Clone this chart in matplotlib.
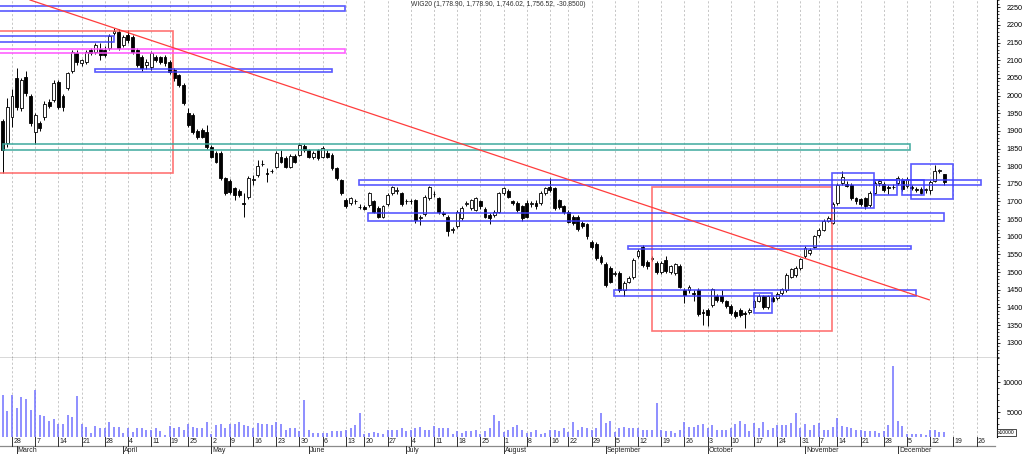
import matplotlib
matplotlib.use('Agg')
import matplotlib.pyplot as plt
import matplotlib.transforms as mtransforms
from matplotlib.patches import Rectangle
from matplotlib.lines import Line2D
import numpy as np
import pandas as pd

plt.rcParams['font.family'] = ['Liberation Sans', 'DejaVu Sans']

# ---------------- data ----------------
title_text = "WIG20 (1,778.90, 1,778.90, 1,746.02, 1,756.52, -30.8500)"
holidays = ['2022-04-15', '2022-04-18', '2022-05-03', '2022-06-16',
            '2022-08-15', '2022-11-01', '2022-11-11']
first_date, last_axis_date = '2022-02-24', '2022-12-30'
first_tick_date = '2022-02-28'
first_month_date = '2022-03-01'

opens = [1929, 1865, 1940, 2049, 1964, 2054, 1999, 1898, 1921, 1938,
         1983, 1988, 2039, 1999, 2021, 2071, 2120, 2092, 2096, 2129,
         2124, 2131, 2129, 2134, 2178, 2181, 2143, 2172, 2167, 2129,
         2110, 2087, 2082, 2110, 2108, 2110, 2096, 2072, 2058, 2030,
         1952, 1945, 1900, 1903, 1898, 1855, 1837, 1837, 1766, 1759,
         1737, 1731, 1697, 1714, 1762, 1775, 1805, 1781, 1785, 1799,
         1827, 1822, 1799, 1829, 1832, 1857, 1846, 1826, 1846, 1827,
         1838, 1832, 1794, 1761, 1704, 1695, 1700, 1685, 1684, 1690,
         1700, 1681, 1657, 1693, 1723, 1729, 1723, 1700, 1701, 1704,
         1653, 1665, 1709, 1722, 1709, 1666, 1657, 1620, 1631, 1653,
         1694, 1681, 1676, 1700, 1678, 1662, 1662, 1671, 1723, 1731,
         1700, 1695, 1686, 1697, 1694, 1695, 1695, 1723, 1742, 1737,
         1703, 1686, 1671, 1657, 1657, 1640, 1636, 1586, 1579, 1544,
         1523, 1511, 1496, 1497, 1450, 1473, 1486, 1546, 1572, 1530,
         1538, 1527, 1499, 1535, 1499, 1497, 1518, 1450, 1448, 1441,
         1450, 1388, 1393, 1407, 1433, 1431, 1417, 1404, 1388, 1393,
         1384, 1386, 1402, 1419, 1431, 1401, 1426, 1426, 1440, 1450,
         1487, 1492, 1511, 1546, 1553, 1572, 1605, 1620, 1646, 1640,
         1695, 1752, 1749, 1747, 1709, 1706, 1709, 1690, 1725, 1752,
         1749, 1741, 1740, 1752, 1761, 1744, 1742, 1734, 1735, 1732,
         1733, 1759, 1786, 1778.90]
highs = [1935, 1994, 2020, 2077, 2050, 2071, 2005, 1950, 1928, 1985,
         1990, 2044, 2045, 2005, 2068, 2130, 2128, 2105, 2130, 2135,
         2150, 2148, 2140, 2175, 2190, 2188, 2172, 2186, 2172, 2135,
         2115, 2105, 2125, 2115, 2112, 2115, 2102, 2078, 2062, 2035,
         1964, 1950, 1906, 1908, 1917, 1860, 1842, 1842, 1770, 1763,
         1742, 1735, 1723, 1772, 1775, 1818, 1818, 1794, 1792, 1842,
         1846, 1828, 1835, 1835, 1865, 1862, 1850, 1842, 1850, 1856,
         1845, 1836, 1798, 1765, 1710, 1712, 1708, 1692, 1690, 1728,
         1705, 1686, 1690, 1723, 1745, 1740, 1728, 1708, 1707, 1708,
         1662, 1718, 1745, 1730, 1714, 1672, 1662, 1628, 1676, 1686,
         1700, 1708, 1714, 1705, 1683, 1667, 1675, 1728, 1742, 1735,
         1705, 1700, 1690, 1703, 1700, 1705, 1730, 1742, 1766, 1742,
         1708, 1690, 1676, 1662, 1662, 1645, 1640, 1592, 1584, 1549,
         1528, 1516, 1504, 1502, 1475, 1488, 1540, 1566, 1578, 1535,
         1545, 1532, 1532, 1546, 1520, 1526, 1522, 1455, 1464, 1450,
         1455, 1395, 1398, 1456, 1438, 1450, 1422, 1409, 1393, 1398,
         1390, 1398, 1424, 1438, 1436, 1436, 1432, 1443, 1456, 1497,
         1513, 1516, 1541, 1573, 1568, 1606, 1625, 1651, 1660, 1698,
         1752, 1785, 1757, 1752, 1714, 1711, 1714, 1730, 1758, 1763,
         1754, 1746, 1750, 1771, 1766, 1768, 1748, 1740, 1740, 1738,
         1761, 1803, 1792, 1778.90]
lows = [1782, 1855, 1912, 1960, 1955, 2000, 1915, 1863, 1900, 1930,
        1965, 1982, 1962, 1955, 2015, 2065, 2087, 2085, 2090, 2115,
        2118, 2101, 2108, 2128, 2172, 2128, 2138, 2150, 2118, 2080,
        2070, 2075, 2072, 2095, 2090, 2085, 2062, 2042, 2025, 1972,
        1910, 1892, 1878, 1880, 1850, 1822, 1808, 1760, 1718, 1722,
        1705, 1712, 1657, 1708, 1747, 1770, 1800, 1756, 1780, 1795,
        1808, 1794, 1795, 1808, 1828, 1840, 1822, 1820, 1818, 1822,
        1822, 1788, 1760, 1718, 1682, 1690, 1692, 1678, 1675, 1685,
        1666, 1652, 1652, 1688, 1718, 1722, 1688, 1693, 1694, 1638,
        1634, 1660, 1704, 1712, 1664, 1658, 1603, 1612, 1626, 1648,
        1688, 1676, 1672, 1680, 1652, 1636, 1657, 1666, 1718, 1710,
        1690, 1670, 1645, 1652, 1685, 1680, 1690, 1718, 1728, 1676,
        1678, 1665, 1638, 1632, 1615, 1626, 1595, 1566, 1534, 1524,
        1458, 1468, 1490, 1444, 1433, 1468, 1481, 1540, 1515, 1510,
        1532, 1494, 1494, 1497, 1494, 1492, 1454, 1412, 1442, 1417,
        1377, 1350, 1346, 1402, 1416, 1412, 1399, 1379, 1371, 1374,
        1341, 1381, 1397, 1414, 1396, 1396, 1414, 1421, 1435, 1445,
        1482, 1487, 1506, 1541, 1548, 1567, 1600, 1615, 1641, 1635,
        1690, 1747, 1740, 1704, 1694, 1688, 1680, 1685, 1720, 1745,
        1728, 1722, 1735, 1747, 1730, 1739, 1732, 1727, 1720, 1725,
        1720, 1755, 1780, 1746.02]
closes = [1846, 1969, 1999, 1969, 2044, 2006, 1921, 1945, 1907, 1976,
          1971, 2035, 1969, 1969, 2063, 2124, 2096, 2100, 2124, 2120,
          2143, 2115, 2115, 2169, 2182, 2134, 2167, 2157, 2124, 2087,
          2077, 2095, 2120, 2101, 2096, 2091, 2068, 2049, 2030, 1978,
          1917, 1898, 1884, 1884, 1855, 1827, 1813, 1766, 1723, 1728,
          1719, 1719, 1694, 1766, 1764, 1801, 1807, 1779, 1787, 1837,
          1813, 1799, 1829, 1813, 1860, 1846, 1827, 1838, 1822, 1851,
          1827, 1794, 1766, 1725, 1686, 1709, 1701, 1683, 1680, 1723,
          1671, 1657, 1686, 1719, 1740, 1733, 1693, 1701, 1700, 1648,
          1657, 1714, 1740, 1720, 1669, 1664, 1615, 1622, 1671, 1681,
          1696, 1704, 1709, 1686, 1657, 1653, 1671, 1723, 1737, 1714,
          1695, 1676, 1653, 1657, 1696, 1686, 1725, 1737, 1733, 1681,
          1684, 1671, 1643, 1638, 1621, 1631, 1601, 1572, 1539, 1530,
          1464, 1473, 1498, 1450, 1470, 1483, 1535, 1561, 1520, 1516,
          1540, 1499, 1527, 1502, 1516, 1522, 1459, 1436, 1459, 1439,
          1382, 1384, 1379, 1451, 1421, 1417, 1404, 1384, 1376, 1379,
          1380, 1393, 1419, 1433, 1401, 1431, 1419, 1438, 1451, 1492,
          1508, 1511, 1536, 1568, 1563, 1601, 1620, 1646, 1652, 1693,
          1747, 1770, 1745, 1709, 1700, 1693, 1686, 1725, 1753, 1758,
          1733, 1739, 1742, 1766, 1735, 1763, 1737, 1732, 1725, 1734,
          1756, 1785, 1788, 1756.52]
volumes = [7900, 5200, 7900, 5700, 7500, 7200, 5300, 8700, 4500, 4300,
           3600, 3800, 3000, 3000, 4500, 4200, 7700, 3000, 2600, 1600,
           2700, 2300, 2300, 3400, 2600, 2600, 1600, 2300, 1700, 2300,
           2400, 2000, 2100, 2400, 1800, 1200, 2700, 2400, 2600, 2000,
           3100, 2600, 2400, 2400, 3300, 1400, 2900, 3100, 2400, 3100,
           3100, 3400, 2800, 2700, 2400, 3200, 3100, 3100, 2800, 3400,
           3000, 2100, 2400, 2400, 1900, 7100, 2000, 1500, 1600, 1500,
           1600, 1900, 1900, 1900, 2100, 2300, 2800, 4800, 1300, 1600,
           1700, 1600, 1400, 2100, 2000, 2100, 2400, 1800, 2100, 2300,
           2600, 2100, 2100, 2700, 2400, 2300, 2300, 1400, 1800, 1500,
           1900, 1800, 2000, 1300, 1900, 2400, 4500, 3500, 1700, 2000,
           2600, 2800, 2000, 1600, 1700, 2000, 1400, 1600, 2000, 2100,
           1900, 2300, 1700, 3400, 2100, 2600, 2300, 2100, 2300, 4900,
           3200, 3500, 1700, 2300, 2600, 2400, 2400, 2300, 2100, 2000,
           2100, 6600, 2000, 1900, 1900, 1600, 2000, 3400, 2500, 2600,
           2800, 3000, 2400, 2800, 2000, 2000, 2100, 2300, 3000, 3500,
           3000, 1900, 3200, 2400, 3400, 2000, 2300, 2800, 2800, 2800,
           3200, 4900, 2400, 3100, 2100, 2800, 3200, 2000, 2000, 2600,
           4000, 2700, 2600, 2400, 2100, 2100, 1900, 1900, 1900, 1500,
           1900, 2800, 12700, 3500, 2700, 1300, 1400, 1300, 1300, 1200,
           2000, 2100, 1700, 1700]

# drawing objects (x in trading-day index, y in index points)
blue_boxes = [(-3, 73.9, 2239.6, 2254.6), (-3, 23.9, 2151, 2168.8),
              (20.0, 71.0, 2066, 2074.5), (76.9, 210.9, 1747, 1762),
              (78.8, 202.9, 1646, 1667), (134.9, 195.8, 1565, 1575),
              (131.9, 197.0, 1431, 1450), (161.9, 165.8, 1385, 1442),
              (178.8, 187.9, 1681, 1782), (187.8, 192.8, 1719, 1761),
              (194.0, 198.7, 1717, 1761), (195.8, 204.9, 1706, 1806)]
magenta_boxes = [(-3, 73.9, 2120, 2131)]
teal_boxes = [(0.0, 195.7, 1847, 1862)]
red_boxes = [(-3, 36.8, 1780, 2183), (140.0, 178.9, 1334, 1740.5)]
trend_x = [5.9, 199.8]
trend_y = [2270.7, 1421.4]

price_ticks = list(range(1300, 2251, 50))
volume_ticks = [5000, 10000]

# ---------------- calendar ----------------
dates = pd.bdate_range(first_date, last_axis_date)
dates = dates[~dates.isin(pd.to_datetime(holidays))]
ser = pd.Series(np.arange(len(dates)), index=dates)
valid = ser[ser.index >= pd.Timestamp(first_tick_date)]
iso = valid.index.isocalendar()
week_idx = valid.groupby([iso['year'].values, iso['week'].values]).min().sort_values().values
week_lab = [str(dates[i].day) for i in week_idx]
mvalid = ser[ser.index >= pd.Timestamp(first_month_date)]
month_idx = mvalid.groupby(mvalid.index.month).min().sort_values().values
month_lab = [dates[i].strftime('%B') for i in month_idx]

# ---------------- figure ----------------
W, H = 1024, 454
fig = plt.figure(figsize=(W / 100, H / 100), dpi=100)
fig.patch.set_facecolor('white')
axp = fig.add_axes([0, (H - 358) / H, 997 / W, 358 / H])
axv = fig.add_axes([0, (H - 437) / H, 997 / W, (437 - 358) / H], sharex=axp)

x = np.arange(len(opens))
o, h, l, c = (np.array(v, float) for v in (opens, highs, lows, closes))
up = c >= o

for ax in (axp, axv):
    ax.set_facecolor('white')
    ax.set_xticks(week_idx)
    ax.grid(axis='x', linestyle=(0, (2.2, 2.2)), color='#c6c6c6', lw=0.7)
    ax.set_axisbelow(True)
    ax.tick_params(axis='x', length=0, labelbottom=False)
    for s in ('left', 'top', 'bottom'):
        ax.spines[s].set_visible(False)
    ax.spines['right'].set_color('black')
    ax.spines['right'].set_linewidth(0.8)

axp.spines['bottom'].set_visible(True)
axp.spines['bottom'].set_color('#404040')
axp.spines['bottom'].set_linewidth(1.0)

# candles
axp.vlines(x, l, h, color='black', lw=0.7, zorder=2)
axp.bar(x, np.maximum(np.abs(c - o), 0.8), bottom=np.minimum(o, c), width=0.62,
        color=np.where(up, 'white', 'black'), edgecolor='black', linewidth=0.6, zorder=3)

# drawing objects
def boxes(lst, color, lw=1.2, alpha=0.9):
    for x0, x1, p0, p1 in lst:
        axp.add_patch(Rectangle((x0, p0), x1 - x0, p1 - p0, fill=False,
                                edgecolor=color, lw=lw, alpha=alpha, zorder=4))

boxes(red_boxes, '#ff5c5c', 1.2, 0.85)
boxes(teal_boxes, '#3aa89c', 1.2, 0.9)
boxes(magenta_boxes, '#ff50ff', 1.2, 0.9)
boxes(blue_boxes, '#3c3cff', 1.2, 0.85)
axp.plot(trend_x, trend_y, color='#ff3c3c', lw=0.9, zorder=4)

axp.set_xlim(-0.58, 214.4)
axp.set_ylim(1256.7, 2270.7)
axp.yaxis.tick_right()
axp.set_yticks(price_ticks)
axp.set_yticks(np.arange(1260, 2271, 10), minor=True)
axp.tick_params(axis='y', which='major', length=2.4, width=0.6, pad=16, labelsize=5.2,
                colors='black')
axp.tick_params(axis='y', which='minor', length=1.2, width=0.5)
plt.setp(axp.get_yticklabels(), ha='right')

axp.text(0.5, 1 - 5 / 358, title_text, transform=axp.transAxes, ha='center', va='center',
         fontsize=4.9, color='#303030')

# volume
axv.vlines(x, 0, volumes, color='#7070ff', lw=1.1, zorder=2)
axv.set_ylim(880, 14050)
axv.yaxis.tick_right()
axv.set_yticks(volume_ticks)
axv.set_yticklabels([str(v) for v in volume_ticks])
axv.set_yticks(np.arange(1000, 14001, 1000), minor=True)
axv.tick_params(axis='y', which='major', length=2.4, width=0.6, pad=16, labelsize=5.2)
axv.tick_params(axis='y', which='minor', length=1.2, width=0.5)
plt.setp(axv.get_yticklabels(), ha='right')
fig.text(998 / W, (H - 432.7) / H, 'x10000', fontsize=3.6, ha='left', va='center',
         bbox=dict(boxstyle='square,pad=0.15', fc='white', ec='black', lw=0.5))

# date axis
tr = mtransforms.blended_transform_factory(axv.transData, fig.transFigure)
y_top, y_mid, y_bot = (H - 437) / H, (H - 445.5) / H, 0.0
fig.add_artist(Line2D([0, 995 / W], [y_mid, y_mid], transform=fig.transFigure,
                      color='#8a8a8a', lw=0.9))
for i, lab in zip(week_idx, week_lab):
    fig.add_artist(Line2D([i, i], [y_top, y_mid], transform=tr, color='#303030', lw=0.7))
    fig.text(i + 0.25, (H - 441.3) / H, lab, transform=tr, fontsize=5, ha='left',
             va='center', color='#202020')
for i, lab in zip(month_idx, month_lab):
    fig.add_artist(Line2D([i, i], [y_mid, y_bot], transform=tr, color='#303030', lw=0.7))
    fig.text(i + 0.25, (H - 450.2) / H, lab, transform=tr, fontsize=5, ha='left',
             va='center', color='#202020')

fig.savefig('out.png', dpi=100, facecolor='white')
